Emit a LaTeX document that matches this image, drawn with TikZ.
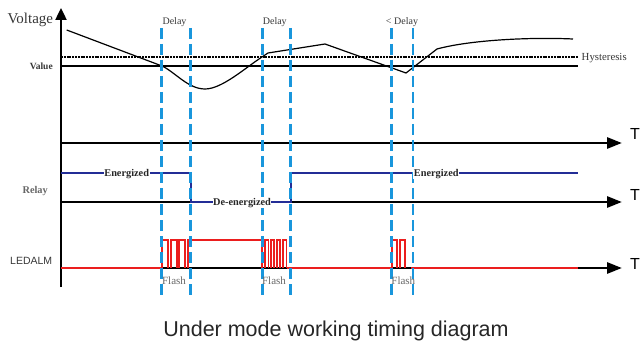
\documentclass[tikz,border=0pt]{standalone}
\usepackage{fontspec}
\setmainfont{Liberation Serif}
\newfontfamily\arialfont{Liberation Sans}
\usetikzlibrary{arrows.meta}
\definecolor{dashblue}{RGB}{25,150,220}
\definecolor{relayblue}{RGB}{35,45,150}
\definecolor{ledred}{RGB}{235,30,30}
\definecolor{txtgray}{RGB}{55,55,55}
\definecolor{flashgray}{RGB}{105,105,105}
\begin{document}
\begin{tikzpicture}[x=1pt,y=-1pt,
  yaxisline/.style={line width=2.4pt,-{Triangle[length=12pt,width=11pt]}},
  taxisline/.style={line width=2.8pt,-{Triangle[length=15pt,width=11pt]}},
  dashline/.style={dashblue,line width=2.8pt,dash pattern=on 11pt off 5pt},
  relayline/.style={relayblue,line width=2pt},
  pulse/.style={ledred,line width=1.9pt},
  ledbase/.style={ledred,line width=2.8pt},
  tlabel/.style={font=\arialfont\fontsize{16}{16}\selectfont,anchor=west,inner sep=0pt},
  smalllbl/.style={font=\fontsize{10}{10}\selectfont,text=txtgray,anchor=base,inner sep=0pt},
  statelbl/.style={font=\bfseries\fontsize{10.3}{10.3}\selectfont,text=black!85,anchor=base,fill=white,inner sep=0.6pt},
  flashlbl/.style={font=\fontsize{11}{11}\selectfont,text=flashgray,anchor=base,inner sep=0pt}
]
\useasboundingbox (0,0) rectangle (640,342);

% axes
\coordinate (yb) at (61,287);
\coordinate (yt) at (61,8);
\draw[yaxisline] (yb) -- (yt);
\coordinate (t1s) at (61,143); \coordinate (t1e) at (622,143);
\coordinate (t2s) at (61,202); \coordinate (t2e) at (622,202);
\coordinate (t3s) at (61,268); \coordinate (t3e) at (622,268);
\draw[taxisline] (t1s) -- (t1e);
\draw[taxisline] (t2s) -- (t2e);
\draw[taxisline] (t3s) -- (t3e);
\node[tlabel] (T1) at (630,134) {T};
\node[tlabel] (T2) at (630,195) {T};
\node[tlabel] (T3) at (630,264) {T};

% threshold lines
\draw[line width=2.6pt,dash pattern=on 2pt off 0.8pt] (61,57) -- (578,57);
\draw[line width=1.1pt] (61,66) -- (578,66);

% voltage curve
\draw[line width=1.2pt] (66.7,30) -- (162,66)
  .. controls (175,72) and (188,89) .. (205,89)
  .. controls (222,89) and (245,68) .. (262,57)
  -- (268,53) -- (325,44) -- (406,73) -- (437,49)
  .. controls (470,40) and (530,37) .. (573,39);

% relay
\draw[relayline] (61,173) -- (191,173) -- (191,202) -- (291,202) -- (291,173);
\draw[relayblue,line width=1.5pt] (291,173) -- (578,173);

% LED
\draw[ledbase] (61,268) -- (162,268);
\draw[pulse] (162,268) -- (162,240) -- (168.3,240) -- (168.3,268);
\draw[pulse] (171,268) -- (171,240) -- (176.7,240) -- (176.7,268);
\draw[pulse] (179.3,268) -- (179.3,240) -- (185,240) -- (185,268);
\draw[pulse] (187.7,268) -- (187.7,240) -- (262,240) -- (262,268);
\draw[pulse] (265,268) -- (265,240) -- (268.5,240) -- (268.5,268);
\draw[pulse] (270.7,268) -- (270.7,240) -- (274.3,240) -- (274.3,268);
\draw[pulse] (276.7,268) -- (276.7,240) -- (280.3,240) -- (280.3,268);
\draw[pulse] (283,268) -- (283,240) -- (286.5,240) -- (286.5,268);
\draw[ledbase] (286.5,268) -- (392,268);
\draw[pulse] (392,268) -- (392,240) -- (397,240) -- (397,268);
\draw[pulse] (400,268) -- (400,240) -- (405,240) -- (405,268);
\draw[ledbase] (411,268) -- (578,268);

% dashed markers
\foreach \xx in {161.7,190.7,262.3,290.7,391.7,413}{
  \draw[dashline] (\xx,28) -- (\xx,300);
}

% labels
\node[font=\fontsize{15}{15}\selectfont,text=txtgray,anchor=base,inner sep=0pt] (volt) at (30.3,23.3) {Voltage};
\node[font=\bfseries\fontsize{9.5}{9.5}\selectfont,text=txtgray,anchor=base,inner sep=0pt] (val) at (41.3,69.2) {Value};
\node[font=\fontsize{10.8}{10.8}\selectfont,text=txtgray,anchor=base,inner sep=0pt] (hys) at (604.2,60.7) {Hysteresis};
\node[smalllbl] (d1) at (174.5,25) {Delay};
\node[smalllbl] (d2) at (274.8,25) {Delay};
\node[smalllbl] (d3) at (402,25) {< Delay};
\node[statelbl] (en1) at (126.7,176.3) {Energized};
\node[statelbl] (de) at (242,205.2) {De-energized};
\node[statelbl] (en2) at (436.3,176.3) {Energized};
\node[font=\bfseries\fontsize{10.3}{10.3}\selectfont,text=black!60,anchor=base,inner sep=0pt] (rel) at (35.2,193.5) {Relay};
\node[font=\arialfont\fontsize{10.5}{10.5}\selectfont,text=txtgray,anchor=base,inner sep=0pt] (led) at (31.2,264) {LEDALM};
\node[flashlbl] (f1) at (174,284.3) {Flash};
\node[flashlbl] (f2) at (274,284.3) {Flash};
\node[flashlbl] (f3) at (403.3,284.3) {Flash};
\node[font=\arialfont\fontsize{21.5}{21.5}\selectfont,text=black!85,anchor=base,inner sep=0pt] (cap) at (336,336.7) {Under mode working timing diagram};
\end{tikzpicture}
\end{document}
